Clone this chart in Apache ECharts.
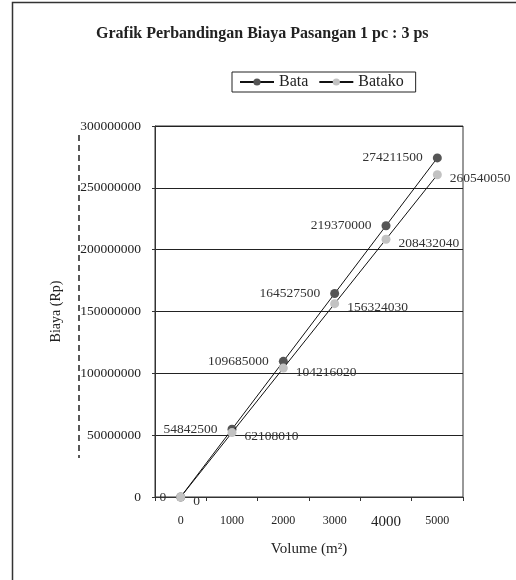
<!DOCTYPE html>
<html>
<head>
<meta charset="utf-8">
<script src="https://cdn.jsdelivr.net/npm/echarts@6/dist/echarts.min.js"></script>
<style>html,body{margin:0;padding:0;background:#fff;}#c{width:516px;height:580px;}</style>
</head>
<body>
<div id="c"></div>
<script>
const categories = ['0', '1000', '2000', '3000', '4000', '5000'];
const bataValues = [0, 54842500, 109685000, 164527500, 219370000, 274211500];
const batakoValues = [0, 52108010, 104216020, 156324030, 208432040, 260540050];
const bataLabels = ['0', '54842500', '109685000', '164527500', '219370000', '274211500'];
const batakoLabels = ['0', '62108010', '104216020', '156324030', '208432040', '260540050'];
const yTicks = { min: 0, max: 300000000, interval: 50000000 };

const FONT = '"Liberation Serif", "DejaVu Serif", serif';
const chart = echarts.init(document.getElementById('c'));
chart.setOption({
  backgroundColor: '#fff',
  animation: false,
  textStyle: { fontFamily: FONT },
  title: {
    text: 'Grafik Perbandingan Biaya Pasangan 1 pc : 3 ps',
    left: 91, top: 21,
    textStyle: { fontFamily: FONT, fontSize: 16, fontWeight: 'bold', color: '#222' }
  },
  legend: {
    left: 232, top: 72,
    padding: [2, 12, 2, 7],
    borderColor: '#222', borderWidth: 1,
    itemWidth: 34, itemHeight: 9, itemGap: 10,
    textStyle: { fontFamily: FONT, fontSize: 16, color: '#222', padding: [0, 0, 0, 0] },
    data: ['Bata', 'Batako']
  },
  graphic: [
    { type: 'rect', shape: { x: 12.5, y: 2.5, width: 540, height: 620 }, style: { fill: 'none', stroke: '#333', lineWidth: 1.5 }, silent: true },
    { type: 'line', shape: { x1: 79, y1: 135, x2: 79, y2: 458 }, style: { stroke: '#222', lineWidth: 1.5, lineDash: [6, 4] }, silent: true }
  ],
  grid: { left: 155, right: 53, top: 126, bottom: 83, show: true, borderColor: '#333', borderWidth: 1, backgroundColor: 'transparent' },
  xAxis: {
    type: 'category',
    data: categories,
    boundaryGap: true,
    name: 'Volume (m²)',
    nameLocation: 'middle',
    nameGap: 45,
    nameTextStyle: { fontFamily: FONT, fontSize: 15, color: '#222' },
    axisLine: { lineStyle: { color: '#333', width: 1 } },
    axisTick: { show: true, length: 4, inside: false, interval: 0, lineStyle: { color: '#333' } },
    axisLabel: {
      interval: 0,
      margin: 18, color: '#222', fontFamily: FONT, fontSize: 12,
      formatter: v => v === '4000' ? '{big|' + v + '}' : v,
      rich: { big: { fontSize: 15, fontFamily: FONT, color: '#222' } }
    },
    splitLine: { show: false }
  },
  yAxis: {
    type: 'value',
    min: yTicks.min, max: yTicks.max, interval: yTicks.interval,
    name: 'Biaya (Rp)',
    nameLocation: 'middle',
    nameGap: 92,
    nameRotate: 90,
    nameTextStyle: { fontFamily: FONT, fontSize: 14, color: '#222' },
    axisLine: { show: true, lineStyle: { color: '#333', width: 1 } },
    axisTick: { show: true, length: 3, lineStyle: { color: '#333' } },
    axisLabel: { margin: 14, color: '#222', fontFamily: FONT, fontSize: 13.5, formatter: v => String(v) },
    splitLine: { show: true, lineStyle: { color: '#222', width: 1 } }
  },
  series: [
    {
      name: 'Bata', type: 'line', data: bataValues,
      symbol: 'circle', symbolSize: 9,
      itemStyle: { color: '#555' },
      lineStyle: { color: '#111', width: 1 },
      label: {
        show: true, position: 'left', distance: 10,
        fontFamily: FONT, fontSize: 13.5, color: '#333',
        formatter: p => bataLabels[p.dataIndex]
      },
      z: 2
    },
    {
      name: 'Batako', type: 'line', data: batakoValues,
      symbol: 'circle', symbolSize: 9,
      itemStyle: { color: '#c2c2c2' },
      lineStyle: { color: '#111', width: 1 },
      label: {
        show: true, position: 'right', distance: 8, offset: [0, 4],
        fontFamily: FONT, fontSize: 13.5, color: '#333',
        formatter: p => batakoLabels[p.dataIndex]
      },
      z: 3
    }
  ]
});
</script>
</body>
</html>
